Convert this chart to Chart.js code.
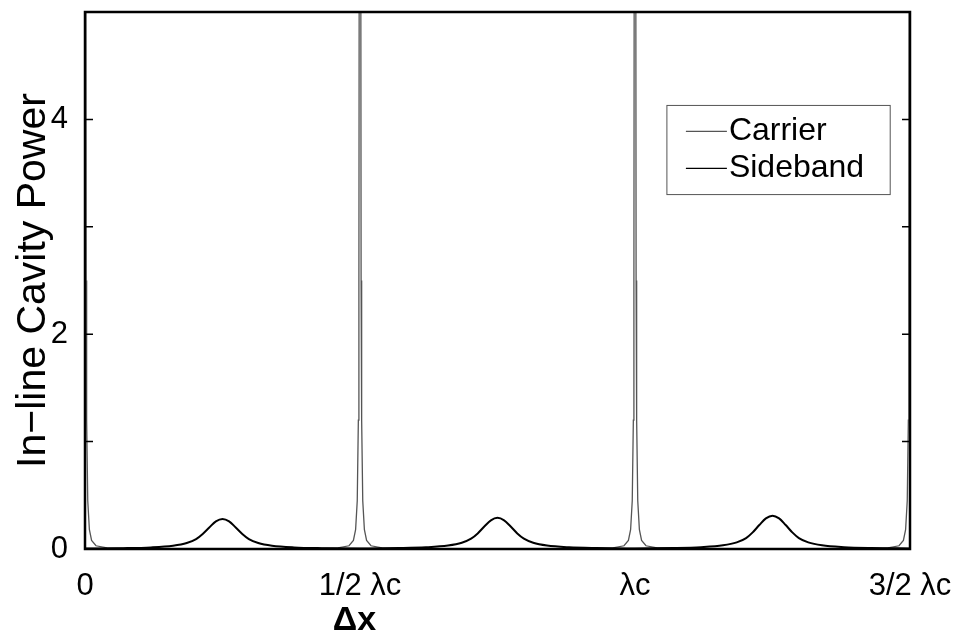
<!DOCTYPE html>
<html>
<head>
<meta charset="utf-8">
<title>In-line Cavity Power</title>
<script src="https://cdn.jsdelivr.net/npm/chart.js@4.4.1/dist/chart.umd.min.js"></script>
<style>
  html, body { margin: 0; padding: 0; background: #fff; }
  canvas { display: block; }
</style>
</head>
<body>
<canvas id="cavityChart" width="964" height="641"></canvas>
<script>
// x positions are in units of the carrier wavelength (lambda_c)
const carrierX = [
  0, 0.001, 0.002, 0.003, 0.005, 0.008, 0.012, 0.02, 0.04, 0.1, 0.25, 0.4,
  0.46, 0.48, 0.488, 0.492, 0.495, 0.497, 0.498, 0.499, 0.5,
  0.501, 0.502, 0.503, 0.505, 0.508, 0.512, 0.52, 0.54, 0.6, 0.75, 0.9,
  0.96, 0.98, 0.988, 0.992, 0.995, 0.997, 0.998, 0.999, 1.0,
  1.001, 1.002, 1.003, 1.005, 1.008, 1.012, 1.02, 1.04, 1.1, 1.25, 1.4,
  1.46, 1.48, 1.488, 1.492, 1.495, 1.497, 1.498, 1.499, 1.5
];
const carrierPower = [
  30, 8, 2.5, 1.2, 0.45, 0.18, 0.08, 0.03, 0.01, 0.003, 0.002, 0.003,
  0.01, 0.03, 0.08, 0.18, 0.45, 1.2, 2.5, 8, 30,
  8, 2.5, 1.2, 0.45, 0.18, 0.08, 0.03, 0.01, 0.003, 0.002, 0.003,
  0.01, 0.03, 0.08, 0.18, 0.45, 1.2, 2.5, 8, 30,
  8, 2.5, 1.2, 0.45, 0.18, 0.08, 0.03, 0.01, 0.003, 0.002, 0.003,
  0.01, 0.03, 0.08, 0.18, 0.45, 1.2, 2.5, 8, 30
];

const sidebandX = [
  0, 0.07, 0.12, 0.16, 0.185, 0.202, 0.214, 0.226, 0.238, 0.25,
  0.262, 0.274, 0.286, 0.298, 0.315, 0.34, 0.38, 0.43, 0.5,
  0.57, 0.62, 0.66, 0.685, 0.702, 0.714, 0.726, 0.738, 0.75,
  0.762, 0.774, 0.786, 0.798, 0.815, 0.84, 0.88, 0.93, 1.0,
  1.07, 1.12, 1.16, 1.185, 1.202, 1.214, 1.226, 1.238, 1.25,
  1.262, 1.274, 1.286, 1.298, 1.315, 1.34, 1.38, 1.43, 1.5
];
const sidebandPower = [
  0.005, 0.008, 0.015, 0.031, 0.056, 0.092, 0.14, 0.2, 0.258, 0.28,
  0.258, 0.2, 0.14, 0.092, 0.056, 0.031, 0.015, 0.008, 0.005,
  0.009, 0.016, 0.032, 0.058, 0.096, 0.145, 0.209, 0.267, 0.29,
  0.267, 0.209, 0.145, 0.096, 0.058, 0.032, 0.016, 0.009, 0.005,
  0.009, 0.017, 0.034, 0.062, 0.102, 0.155, 0.223, 0.285, 0.31,
  0.285, 0.223, 0.155, 0.102, 0.062, 0.034, 0.017, 0.009, 0.005
];

const xTickValues = [0, 0.5, 1, 1.5];
const xTickLabels = ["0", "1/2 λc", "λc", "3/2 λc"];
const yTickLabels = { 0: "0", 2: "2", 4: "4" };

const FONT = "'Liberation Sans', Arial, Helvetica, sans-serif";

// frame, inward ticks, legend and the Δx label
const framePlugin = {
  id: "frame",
  afterDatasetsDraw(chart) {
    const { ctx, chartArea: a, scales } = chart;
    ctx.save();

    ctx.strokeStyle = "#000";
    ctx.lineWidth = 1.5;
    scales.y.ticks.forEach((t) => {
      const y = scales.y.getPixelForValue(t.value);
      ctx.beginPath();
      ctx.moveTo(a.left, y);
      ctx.lineTo(a.left + 8, y);
      ctx.moveTo(a.right, y);
      ctx.lineTo(a.right - 8, y);
      ctx.stroke();
    });

    ctx.lineWidth = 2.5;
    ctx.strokeRect(a.left, a.top, a.right - a.left, a.bottom - a.top);

    // legend box
    const lx0 = scales.x.getPixelForValue(1.058);
    const lx1 = scales.x.getPixelForValue(1.464);
    const ly0 = scales.y.getPixelForValue(4.13);
    const ly1 = scales.y.getPixelForValue(3.3);
    ctx.fillStyle = "#fff";
    ctx.fillRect(lx0, ly0, lx1 - lx0, ly1 - ly0);
    ctx.strokeStyle = "#555";
    ctx.lineWidth = 1;
    ctx.strokeRect(lx0, ly0, lx1 - lx0, ly1 - ly0);

    ctx.font = "32px " + FONT;
    ctx.textBaseline = "middle";
    ctx.textAlign = "left";
    chart.data.datasets.forEach((ds, i) => {
      const y = ly0 + 26 + i * 37;
      ctx.strokeStyle = ds.borderColor;
      ctx.lineWidth = 1.2;
      ctx.beginPath();
      ctx.moveTo(lx0 + 19, y);
      ctx.lineTo(lx0 + 60, y);
      ctx.stroke();
      ctx.fillStyle = "#000";
      ctx.fillText(ds.label, lx0 + 62, y);
    });

    // x axis title
    ctx.font = "bold 34px " + FONT;
    ctx.textAlign = "center";
    ctx.fillText("Δx", scales.x.getPixelForValue(0.49), 621);

    ctx.restore();
  }
};

new Chart(document.getElementById("cavityChart"), {
  type: "line",
  data: {
    datasets: [
      {
        label: "Carrier",
        data: carrierX.map((x, i) => ({ x: x, y: carrierPower[i] })),
        borderColor: "#555",
        borderWidth: 1.3,
        pointRadius: 0,
        fill: false,
        order: 2,
      },
      {
        label: "Sideband",
        data: sidebandX.map((x, i) => ({ x: x, y: sidebandPower[i] })),
        borderColor: "#000",
        borderWidth: 2,
        pointRadius: 0,
        fill: false,
        cubicInterpolationMode: "monotone",
        order: 1,
      },
    ],
  },
  options: {
    responsive: false,
    devicePixelRatio: 1,
    animation: false,
    layout: { padding: { top: 12, right: 54, left: 0, bottom: 0 } },
    plugins: {
      legend: { display: false },
      tooltip: { enabled: false },
    },
    scales: {
      x: {
        type: "linear",
        min: 0,
        max: 1.5,
        afterBuildTicks: (scale) => {
          scale.ticks = xTickValues.map((v) => ({ value: v }));
        },
        ticks: {
          autoSkip: false,
          maxRotation: 0,
          padding: 19,
          color: "#000",
          font: { family: FONT, size: 31 },
          callback: (v) => xTickLabels[xTickValues.indexOf(v)],
        },
        grid: { display: false, drawTicks: false },
        border: { display: false },
        afterFit: (scale) => {
          scale.height = 92;
          scale.paddingLeft = 0;
          scale.paddingRight = 0;
        },
      },
      y: {
        min: 0,
        max: 5,
        ticks: {
          stepSize: 1,
          autoSkip: false,
          padding: 17,
          color: "#000",
          font: { family: FONT, size: 31 },
          callback: (v) => (yTickLabels[v] !== undefined ? yTickLabels[v] : ""),
        },
        grid: { display: false, drawTicks: false },
        border: { display: false },
        title: {
          display: true,
          text: "In−line Cavity Power",
          color: "#000",
          font: { family: FONT, size: 41 },
          padding: { top: 9, bottom: 0 },
        },
        afterFit: (scale) => {
          scale.width = 85;
          scale.paddingTop = 0;
          scale.paddingBottom = 0;
        },
      },
    },
  },
  plugins: [framePlugin],
});
</script>
</body>
</html>
